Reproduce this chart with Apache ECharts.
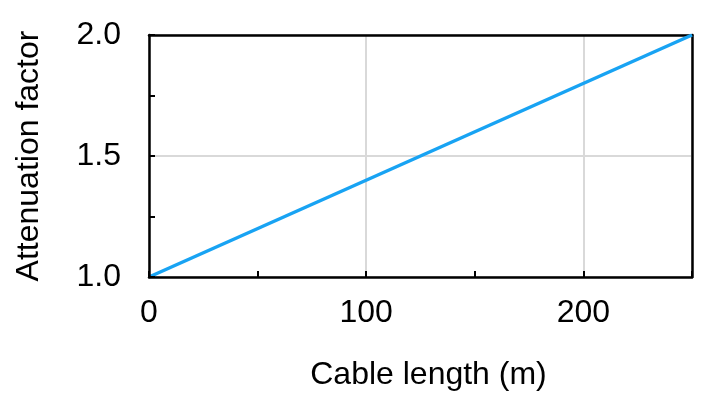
<!DOCTYPE html>
<html><head><meta charset="utf-8">
<script src="https://cdn.jsdelivr.net/npm/echarts@6/dist/echarts.min.js"></script>
<style>html,body{margin:0;padding:0;background:#fff}#c{width:712px;height:415px}</style>
</head><body><div id="c"></div>
<script>
const cableLength = [0, 250];
const attenuation = [1.0, 2.0];
const xTickLabels = [0, 100, 200];
const yTickLabels = ['1.0', '1.5', '2.0'];

const chart = echarts.init(document.getElementById('c'));
const font = '"Liberation Sans", Arial, sans-serif';
const fs = 32;
chart.setOption({
  animation: false,
  grid: {left: 149, right: 20, top: 35, bottom: 138},
  xAxis: [{
    type: 'value', min: 0, max: 250, interval: 50,
    name: 'Cable length (m)', nameLocation: 'middle', nameGap: 82,
    nameTextStyle: {fontFamily: font, fontSize: fs, color: '#000', padding: [0, 0, 0, 16]},
    axisLine: {show: true, lineStyle: {color: '#000', width: 2.5}},
    axisTick: {show: true, inside: true, length: 6, lineStyle: {color: '#000', width: 2}},
    axisLabel: {fontFamily: font, fontSize: fs, color: '#000', margin: 20,
      formatter: v => xTickLabels.indexOf(v) >= 0 ? String(v) : ''},
    splitLine: {show: false}, z: 5
  }, {
    type: 'value', min: 0, max: 250, interval: 100, position: 'top',
    axisLine: {show: true, onZero: false, lineStyle: {color: '#000', width: 2.5}},
    axisTick: {show: false}, axisLabel: {show: false},
    splitLine: {show: true, lineStyle: {color: '#d9d9d9', width: 2}}
  }],
  yAxis: [{
    type: 'value', min: 1.0, max: 2.0, interval: 0.25,
    name: 'Attenuation factor', nameLocation: 'middle', nameGap: 104, nameRotate: 90,
    nameTextStyle: {fontFamily: font, fontSize: fs, color: '#000'},
    axisLine: {show: true, lineStyle: {color: '#000', width: 2.5}},
    axisTick: {show: true, inside: true, length: 6, lineStyle: {color: '#000', width: 2}},
    axisLabel: {fontFamily: font, fontSize: fs, color: '#000', margin: 28,
      formatter: v => { const s = v.toFixed(1); return (yTickLabels.indexOf(s) >= 0 && Math.abs(v*2-Math.round(v*2))<1e-9) ? s : ''; }},
    splitLine: {show: false}, z: 5
  }, {
    type: 'value', min: 1.0, max: 2.0, interval: 0.5, position: 'right',
    axisLine: {show: true, onZero: false, lineStyle: {color: '#000', width: 2.5}},
    axisTick: {show: false}, axisLabel: {show: false},
    splitLine: {show: true, lineStyle: {color: '#d9d9d9', width: 2}}
  }],
  series: [{
    type: 'line', xAxisIndex: 0, yAxisIndex: 0,
    data: cableLength.map((x, i) => [x, attenuation[i]]),
    showSymbol: false, symbol: 'none',
    lineStyle: {color: '#18a3f3', width: 3.5}
  }]
});
</script></body></html>
